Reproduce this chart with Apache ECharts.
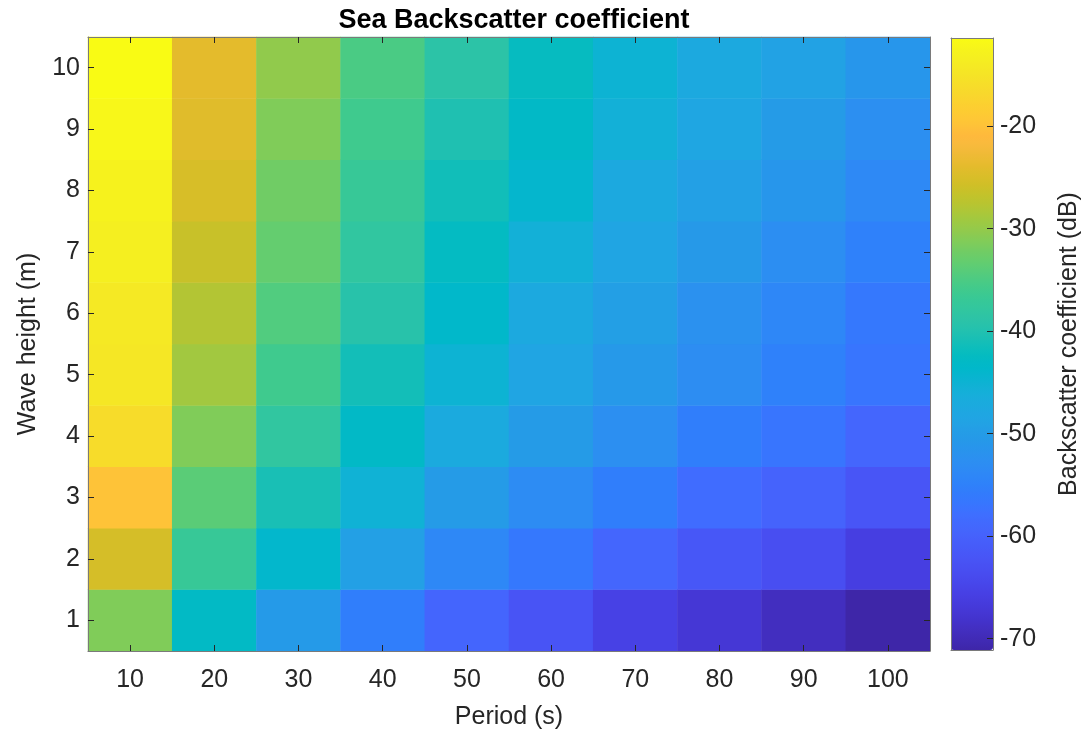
<!DOCTYPE html>
<html>
<head>
<meta charset="utf-8">
<title>Sea Backscatter coefficient</title>
<script src="https://cdn.jsdelivr.net/npm/echarts@6/dist/echarts.min.js"></script>
<style>
  html, body { margin: 0; padding: 0; background: #ffffff; }
  #chart { width: 1088px; height: 731px; }
</style>
</head>
<body>
<div id="chart"></div>
<script>
// Axis categories
const periods = ['10', '20', '30', '40', '50', '60', '70', '80', '90', '100'];
const heights = ['1', '2', '3', '4', '5', '6', '7', '8', '9', '10'];
const colorbarTicks = [-70, -60, -50, -40, -30, -20];

// Backscatter coefficient (dB), one array per wave height, one value per period
const bsH1  = [-31.3, -42.9, -50.4, -55.4, -59.4, -62.3, -65.4, -67.3, -69.2, -71.1];
const bsH2  = [-25.3, -37.0, -43.9, -49.3, -53.9, -56.4, -59.3, -61.8, -63.3, -65.9];
const bsH3  = [-19.9, -33.9, -40.8, -45.3, -50.3, -53.1, -55.4, -58.3, -59.7, -62.1];
const bsH4  = [-16.1, -31.3, -38.0, -43.1, -47.2, -50.3, -52.6, -55.4, -56.9, -59.3];
const bsH5  = [-14.5, -29.1, -36.0, -41.2, -45.0, -48.4, -50.7, -52.9, -55.0, -56.9];
const bsH6  = [-14.3, -27.9, -34.6, -39.3, -43.6, -47.4, -49.5, -52.2, -54.0, -56.4];
const bsH7  = [-13.3, -26.3, -33.2, -38.0, -42.5, -45.7, -48.4, -50.6, -52.8, -55.0];
const bsH8  = [-12.8, -25.1, -32.3, -37.0, -41.3, -44.1, -47.4, -49.3, -51.2, -53.6];
const bsH9  = [-12.1, -24.3, -31.3, -36.0, -40.3, -43.1, -45.7, -48.1, -50.3, -52.6];
const bsH10 = [-11.4, -23.9, -30.2, -35.1, -38.9, -42.2, -45.0, -47.4, -49.0, -51.2];

const rows = [bsH1, bsH2, bsH3, bsH4, bsH5, bsH6, bsH7, bsH8, bsH9, bsH10];

// Parula colour map (64 steps, low to high)
const parula = [
  '#3e26a8','#402ab4','#422ebf','#4332cb','#4537d5','#463cde','#4741e5','#4747eb',
  '#484df0','#4852f4','#4758f8','#465dfa','#4563fc','#4269fe','#3e6fff','#3875fe',
  '#327bfc','#2f81fa','#2e87f7','#2d8cf3','#2b91ef','#2796eb','#259be7','#23a0e5',
  '#20a5e3','#1ca9df','#18addb','#12b1d6','#08b4d0','#01b8ca','#02bac3','#0bbdbc',
  '#19bfb5','#24c1ae','#2cc3a7','#31c69f','#37c897','#3fca8e','#4acb84','#57cc7a',
  '#64cd6f','#71cc64','#80cc59','#8fca4e','#9dc943','#abc739','#b9c430','#c5c22a',
  '#d1bf27','#dcbd29','#e6bb2d','#efba36','#f8ba3d','#feb93c','#fec338','#fec934',
  '#fccf30','#f9d62d','#f7dc2a','#f5e327','#f5e924','#f5ef20','#f7f51b','#f9fb14'
];

const cells = [];
rows.forEach((row, yi) => row.forEach((v, xi) => cells.push([xi, yi, v])));
const allValues = rows.flat();
const cMin = Math.min(...allValues);
const cMax = Math.max(...allValues);

const FONT = '"Liberation Sans", Arial, Helvetica, sans-serif';
const INK = '#262626';
const FRAME = '#7a7a7a';
const FS = 25;

const plot = { left: 88, right: 158, top: 37, bottom: 80 };
const bar = { left: 951, right: 95, top: 38, bottom: 81 };

const chart = echarts.init(document.getElementById('chart'), null, { renderer: 'canvas' });

const boxCat = (extra) => Object.assign({
  type: 'category', gridIndex: 0, data: periods, z: 5,
  axisLine: { show: true, lineStyle: { color: FRAME, width: 1 } },
  axisTick: { show: true, inside: true, alignWithLabel: true, length: 6, lineStyle: { color: INK, width: 1 } },
  axisLabel: { show: false },
  splitLine: { show: false }
}, extra);

const barEdge = (extra) => Object.assign({
  type: 'value', gridIndex: 1, min: 0, max: 1, z: 6,
  axisLine: { show: true, onZero: false, lineStyle: { color: FRAME, width: 1 } },
  axisTick: { show: false }, axisLabel: { show: false }, splitLine: { show: false }
}, extra);

chart.setOption({
  animation: false,
  backgroundColor: '#ffffff',
  textStyle: { fontFamily: FONT, color: INK },
  title: {
    text: 'Sea Backscatter coefficient',
    left: 509, top: 2, textAlign: 'center',
    textStyle: { fontFamily: FONT, fontSize: 27, fontWeight: 'bold', color: '#000000' }
  },
  grid: [
    Object.assign({ containLabel: false, outerBoundsMode: 'none' }, plot),
    Object.assign({ containLabel: false, outerBoundsMode: 'none' }, bar)
  ],
  xAxis: [
    boxCat({
      position: 'bottom',
      name: 'Period (s)', nameLocation: 'middle', nameGap: 54,
      nameTextStyle: { fontFamily: FONT, fontSize: FS, color: INK },
      axisLabel: { show: true, fontFamily: FONT, fontSize: FS, color: INK, margin: 17 }
    }),
    boxCat({ position: 'top' }),
    barEdge({ position: 'bottom' }),
    barEdge({ position: 'top' })
  ],
  yAxis: [
    boxCat({
      data: heights, position: 'left',
      name: 'Wave height (m)', nameLocation: 'middle', nameGap: 47, nameRotate: 90,
      nameTextStyle: { fontFamily: FONT, fontSize: FS, color: INK },
      axisLabel: { show: true, fontFamily: FONT, fontSize: FS, color: INK, margin: 8 }
    }),
    boxCat({ data: heights, position: 'right' }),
    barEdge({
      min: cMin, max: cMax, position: 'right',
      name: 'Backscatter coefficient (dB)', nameLocation: 'middle', nameGap: 64, nameRotate: 90,
      nameTextStyle: { fontFamily: FONT, fontSize: FS, color: INK },
      axisTick: { show: true, inside: true, length: 6, customValues: colorbarTicks, lineStyle: { color: INK, width: 1 } },
      axisLabel: { show: true, customValues: colorbarTicks, fontFamily: FONT, fontSize: FS, color: INK, margin: 7 }
    }),
    barEdge({ min: cMin, max: cMax, position: 'left' })
  ],
  visualMap: {
    type: 'continuous',
    min: cMin, max: cMax,
    seriesIndex: 0,
    calculable: false,
    orient: 'vertical',
    left: bar.left, top: bar.top,
    padding: 0,
    itemWidth: 1088 - bar.left - bar.right,
    itemHeight: 731 - bar.top - bar.bottom,
    text: null,
    hoverLink: false,
    z: 2,
    inRange: { color: parula }
  },
  series: [{
    type: 'heatmap',
    xAxisIndex: 0, yAxisIndex: 0,
    data: cells,
    silent: true,
    emphasis: { disabled: true },
    itemStyle: { borderWidth: 0 }
  }]
});
</script>
</body>
</html>
